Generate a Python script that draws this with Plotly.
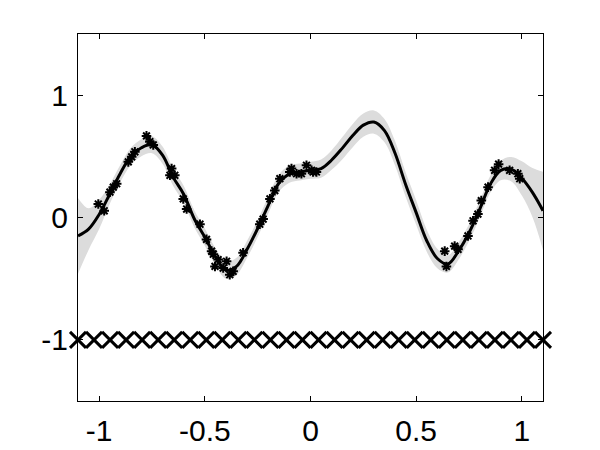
import plotly.graph_objects as go

# mean curve and band half-width
x_curve = [-1.10, -1.05, -1.00, -0.95, -0.90, -0.85, -0.80, -0.75, -0.70, -0.65,
           -0.60, -0.55, -0.50, -0.45, -0.40, -0.35, -0.30, -0.25, -0.20, -0.15,
           -0.10, -0.05, 0.00, 0.05, 0.10, 0.15, 0.20, 0.25, 0.30, 0.35,
           0.40, 0.45, 0.50, 0.55, 0.60, 0.65, 0.70, 0.75, 0.80, 0.85,
           0.90, 0.95, 1.00, 1.05, 1.10]
mean_curve = [-0.15, -0.095, 0.025, 0.19, 0.36, 0.50, 0.57, 0.595, 0.51, 0.33,
              0.19, -0.01, -0.16, -0.32, -0.43, -0.40, -0.26, -0.09, 0.10, 0.28,
              0.355, 0.372, 0.386, 0.40, 0.47, 0.565, 0.67, 0.755, 0.78, 0.71,
              0.525, 0.27, 0.04, -0.19, -0.335, -0.38, -0.275, -0.125, 0.065, 0.27,
              0.385, 0.395, 0.32, 0.205, 0.055]
band_half = [0.31, 0.17, 0.12, 0.08, 0.07, 0.07, 0.07, 0.07, 0.07, 0.07,
             0.07, 0.07, 0.07, 0.07, 0.07, 0.07, 0.07, 0.07, 0.07, 0.07,
             0.07, 0.07, 0.07, 0.075, 0.08, 0.09, 0.095, 0.095, 0.095, 0.095,
             0.10, 0.10, 0.10, 0.09, 0.08, 0.07, 0.07, 0.07, 0.07, 0.07,
             0.08, 0.10, 0.14, 0.20, 0.32]

# observed points (stars)
x_obs = [-1.004, -0.976, -0.949, -0.933, -0.917, -0.862, -0.846, -0.831, -0.776, -0.760,
         -0.744, -0.665, -0.657, -0.642, -0.602, -0.586, -0.523, -0.492, -0.468, -0.460,
         -0.452, -0.437, -0.413, -0.397, -0.382, -0.366, -0.319, -0.240, -0.224, -0.192,
         -0.169, -0.145, -0.098, -0.090, -0.066, -0.043, -0.019, 0.005, 0.012, 0.028,
         0.635, 0.643, 0.682, 0.698, 0.745, 0.769, 0.792, 0.808, 0.840, 0.871,
         0.890, 0.942, 0.981, 0.990]
y_obs = [0.11, 0.055, 0.207, 0.248, 0.276, 0.455, 0.496, 0.537, 0.667, 0.62,
         0.593, 0.345, 0.40, 0.345, 0.152, 0.069, -0.055, -0.179, -0.275, -0.30,
         -0.40, -0.344, -0.413, -0.358, -0.468, -0.44, -0.289, -0.055, -0.013, 0.152,
         0.22, 0.317, 0.372, 0.40, 0.358, 0.358, 0.427, 0.386, 0.372, 0.372,
         -0.275, -0.40, -0.234, -0.26, -0.151, -0.027, 0.028, 0.138, 0.248, 0.386,
         0.436, 0.386, 0.358, 0.317]

# inducing inputs along y = -1
n_cross = 30
x_min, x_max = -1.1, 1.1
x_cross = [x_min + i * (x_max - x_min) / (n_cross - 1) for i in range(n_cross)]
y_cross = [-1] * n_cross

upper = [m + h for m, h in zip(mean_curve, band_half)]
lower = [m - h for m, h in zip(mean_curve, band_half)]

fig = go.Figure()

fig.add_trace(go.Scatter(x=x_curve, y=lower, mode='lines',
                         line=dict(width=0, shape='spline', color='rgb(220,220,220)'),
                         showlegend=False, hoverinfo='skip'))
fig.add_trace(go.Scatter(x=x_curve, y=upper, mode='lines', fill='tonexty',
                         fillcolor='rgb(220,220,220)',
                         line=dict(width=0, shape='spline', color='rgb(220,220,220)'),
                         showlegend=False, hoverinfo='skip'))
fig.add_trace(go.Scatter(x=x_curve, y=mean_curve, mode='lines',
                         line=dict(width=3, shape='spline', color='black'),
                         showlegend=False))
fig.add_trace(go.Scatter(x=x_obs, y=y_obs, mode='markers',
                         marker=dict(symbol='asterisk-open', size=8, color='black',
                                     line=dict(width=2, color='black')),
                         showlegend=False))
fig.add_trace(go.Scatter(x=x_cross, y=y_cross, mode='markers',
                         marker=dict(symbol='x-thin-open', size=16, color='black',
                                     line=dict(width=3, color='black')),
                         showlegend=False, cliponaxis=False))

axis_style = dict(showgrid=False, zeroline=False, showline=True, linecolor='black',
                  linewidth=1, mirror='ticks', ticks='inside', ticklen=5,
                  tickcolor='black', automargin=False,
                  tickfont=dict(family='Liberation Sans, Arial', size=30, color='black'))

fig.update_layout(
    width=600, height=450,
    margin=dict(l=78, r=57, t=34, b=49),
    paper_bgcolor='white', plot_bgcolor='white',
    xaxis=dict(range=[-1.1, 1.1], tickvals=[-1, -0.5, 0, 0.5, 1],
               ticktext=['-1', '-0.5', '0', '0.5', '1'], ticklabelstandoff=3,
               **axis_style),
    yaxis=dict(range=[-1.5, 1.5], tickvals=[-1, 0, 1],
               ticktext=['-1', '0', '1'], ticklabelstandoff=3, **axis_style),
)

# drop the default 8px body margin so the figure fills the 600x450 window
fig.write_html("out.html",
               config={'displayModeBar': False},
               post_script="document.body.style.margin='0';"
                           "document.body.style.overflow='hidden';")
